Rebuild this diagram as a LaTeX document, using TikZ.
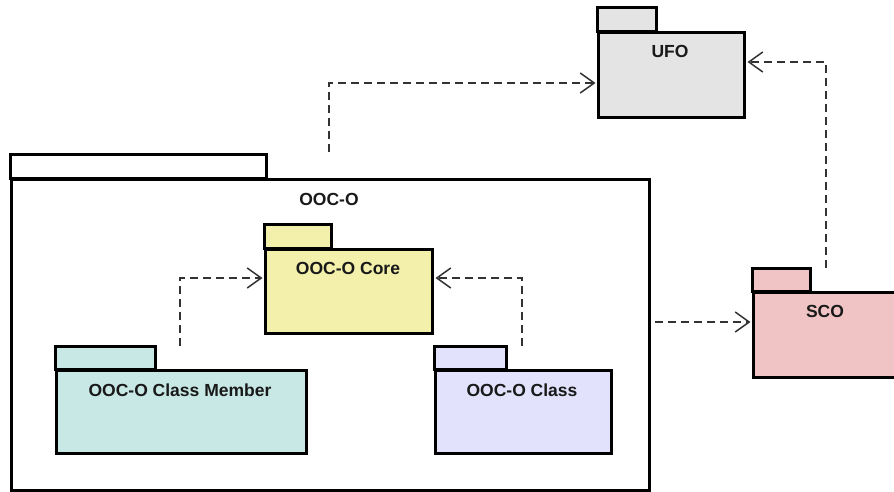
\documentclass[tikz,border=0pt]{standalone}
\usepackage{fontspec}
\setmainfont{Liberation Sans}
\usetikzlibrary{arrows.meta,calc}
\definecolor{ufofill}{HTML}{E4E4E4}
\definecolor{corefill}{HTML}{F2F0AA}
\definecolor{memberfill}{HTML}{C8E8E6}
\definecolor{classfill}{HTML}{E2E2FC}
\definecolor{scofill}{HTML}{F0C4C4}
\begin{document}
\begin{tikzpicture}[x=1pt,y=-1pt,
  pkgline/.style={draw=black, line width=3pt},
  pkgbody/.style={pkgline, rectangle, inner sep=0pt, anchor=north west},
  pkglabel/.style={font=\bfseries\fontsize{17.5}{20}\selectfont, text=black!90, inner sep=0pt},
  dep/.style={draw=black!80, line width=1.3pt, dash pattern=on 8pt off 5pt,
    -{Straight Barb[length=14pt,width=20pt,line width=1.5pt]}, shorten >=1.5pt}]
\path[use as bounding box] (0,0) rectangle (894,491);
\clip (0,0) rectangle (894,491);

% package OOC-O (container)
\draw[pkgline, fill=white] (10,154) rectangle (266,178);
\node[pkgbody, fill=white, minimum width=638pt, minimum height=311pt] (ooco) at (10,178) {};
\node[pkglabel] (ooco-t) at (329,199) {OOC-O};

% package UFO
\draw[pkgline, fill=ufofill] (597,7) rectangle (656,31);
\node[pkgbody, fill=ufofill, minimum width=146pt, minimum height=85pt] (ufo) at (597,31) {};
\node[pkglabel] (ufo-t) at (670,51) {UFO};

% package SCO
\draw[pkgline, fill=scofill] (752,268) rectangle (810,291);
\node[pkgbody, fill=scofill, minimum width=146pt, minimum height=85pt] (sco) at (752,291) {};
\node[pkglabel] (sco-t) at (825,311) {SCO};

% package OOC-O Core
\draw[pkgline, fill=corefill] (264,224) rectangle (331,248);
\node[pkgbody, fill=corefill, minimum width=167pt, minimum height=84pt] (core) at (264,248) {};
\node[pkglabel] (core-t) at (348,268) {OOC-O Core};

% package OOC-O Class Member
\draw[pkgline, fill=memberfill] (55,346) rectangle (155,369);
\node[pkgbody, fill=memberfill, minimum width=250pt, minimum height=83pt] (member) at (55,369) {};
\node[pkglabel] (member-t) at (180,390) {OOC-O Class Member};

% package OOC-O Class
\draw[pkgline, fill=classfill] (434,346) rectangle (506,369);
\node[pkgbody, fill=classfill, minimum width=176pt, minimum height=83pt] (class) at (434,369) {};
\node[pkglabel] (class-t) at (522,390) {OOC-O Class};

% dependency source points
\coordinate (ooco-src) at (329,152);
\coordinate (sco-src) at (826,268);
\coordinate (member-src) at (180,346);
\coordinate (class-src) at (522,346);

% dependencies
\draw[dep] (ooco-src) |- ($(ufo.north west)+(0,52)$);
\draw[dep] (sco-src) |- ($(ufo.north east)+(0,31)$);
\draw[dep] ($(ooco.north east)+(4,144)$) -- ($(sco.north west)+(0,31)$);
\draw[dep] (member-src) |- ($(core.north west)+(0,30)$);
\draw[dep] (class-src) |- ($(core.north east)+(0,30)$);
\end{tikzpicture}
\end{document}
